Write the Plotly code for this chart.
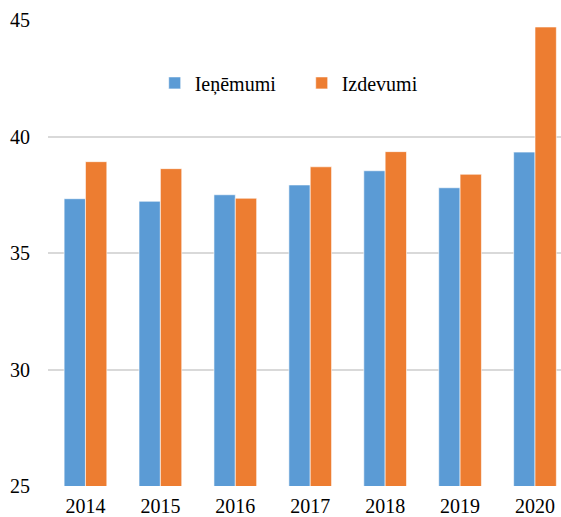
import plotly.graph_objects as go

years = ["2014", "2015", "2016", "2017", "2018", "2019", "2020"]
ienemumi = [37.33, 37.22, 37.50, 37.92, 38.53, 37.80, 39.33]
izdevumi = [38.92, 38.62, 37.35, 38.70, 39.35, 38.38, 44.70]
y_ticks = [25, 30, 35, 40, 45]

FONT = "Liberation Serif, Times New Roman, serif"

fig = go.Figure()
fig.add_trace(go.Bar(x=years, y=ienemumi, name="Ieņēmumi",
                     marker=dict(color="#5B9BD5", line=dict(color="#FFFFFF", width=0.6))))
fig.add_trace(go.Bar(x=years, y=izdevumi, name="Izdevumi",
                     marker=dict(color="#ED7D31", line=dict(color="#FFFFFF", width=0.6))))

fig.update_layout(
    width=561, height=517,
    margin=dict(l=48, r=0, t=20, b=31, pad=0, autoexpand=False),
    paper_bgcolor="white", plot_bgcolor="white",
    barmode="group", bargap=0.43, bargroupgap=0,
    font=dict(family=FONT, size=20, color="#000000"),
    showlegend=True,
    legend=dict(orientation="h", x=0.208, y=0.865, xanchor="left", yanchor="middle",
                font=dict(family=FONT, size=20, color="#000000"),
                bgcolor="rgba(0,0,0,0)", itemwidth=30, traceorder="normal",
                entrywidth=102, entrywidthmode="pixels"),
    xaxis=dict(range=[-0.5, 6.347], showgrid=False, zeroline=False, showline=False,
               automargin=False,
               ticks="outside", ticklen=2, tickcolor="rgba(0,0,0,0)",
               tickfont=dict(family=FONT, size=20, color="#000000")),
    yaxis=dict(range=[25, 45], tickvals=y_ticks, showgrid=True, gridcolor="#D9D9D9",
               gridwidth=1.5, zeroline=False, showline=False, automargin=False,
               ticks="outside", ticklen=13, tickcolor="rgba(0,0,0,0)",
               tickfont=dict(family=FONT, size=20, color="#000000")),
)

fig.write_html("out.html", config={"displayModeBar": False},
               post_script="document.body.style.margin='0';")
